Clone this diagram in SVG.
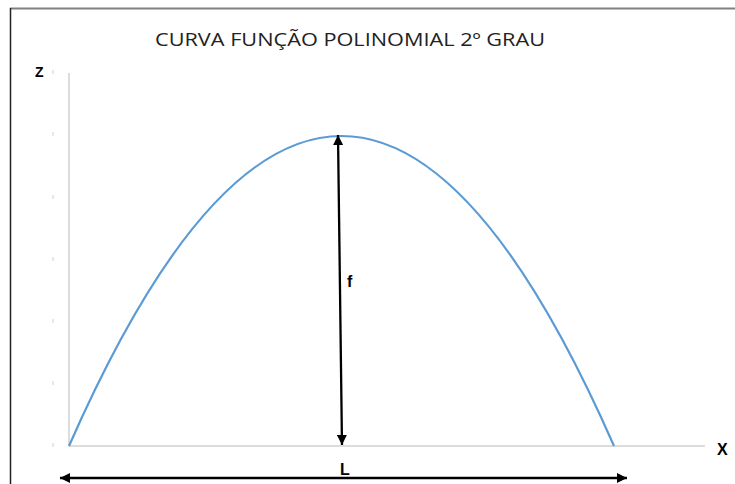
<svg xmlns="http://www.w3.org/2000/svg" width="735" height="484" viewBox="0 0 735 484">
<style>
.lbl{font-family:"Liberation Sans",Arial,sans-serif;font-weight:bold;fill:#000}
.title{font-family:"Open Sans","Liberation Sans",Arial,sans-serif;font-size:18.5px;fill:#222}
.axis{stroke:#d0d0d0;stroke-width:1.5;fill:none}
.tick{stroke:#d0d0d0;stroke-width:1;}
.arr{stroke:#000;stroke-width:2.3;fill:none}
</style>
<defs>
<marker id="ah" viewBox="0 0 10 10" refX="10" refY="5" markerWidth="10" markerHeight="10" markerUnits="userSpaceOnUse" orient="auto-start-reverse">
<path d="M0,0 L10,5 L0,10 z" fill="#000"/>
</marker>
</defs>
<rect width="735" height="484" fill="#fff"/>
<g id="frame">
<line x1="10" y1="8.5" x2="735" y2="8.5" stroke="#808080" stroke-width="2"/>
<line x1="10.5" y1="8" x2="10.5" y2="484" stroke="#222" stroke-width="1.5"/>
</g>
<g id="title"><text class="title" x="155" y="46" textLength="390" lengthAdjust="spacingAndGlyphs">CURVA FUNÇÃO POLINOMIAL 2º GRAU</text></g>
<g id="axes">
<line class="axis" x1="69" y1="73" x2="69" y2="446"/>
<line class="axis" x1="69" y1="446" x2="705" y2="446"/>
<g id="ticks">
<line class="tick" x1="53" y1="70" x2="53" y2="74"/>
<line class="tick" x1="53" y1="132" x2="53" y2="136"/>
<line class="tick" x1="53" y1="195" x2="53" y2="199"/>
<line class="tick" x1="53" y1="257" x2="53" y2="261"/>
<line class="tick" x1="53" y1="319" x2="53" y2="323"/>
<line class="tick" x1="53" y1="381" x2="53" y2="385"/>
<line class="tick" x1="53" y1="443" x2="53" y2="447"/>
</g>
</g>
<g id="label-z"><text class="lbl" x="35" y="77" font-size="14">Z</text></g>
<g id="label-x"><text class="lbl" x="717" y="455" font-size="16">X</text></g>
<g id="curve"><path d="M69,446 Q341.5,-174 614,446" fill="none" stroke="#5B9BD5" stroke-width="2.2"/></g>
<g id="connectors">
<line class="arr" x1="338" y1="135" x2="342" y2="445" marker-start="url(#ah)" marker-end="url(#ah)"/>
<line class="arr" x1="60" y1="478" x2="627" y2="478" marker-start="url(#ah)" marker-end="url(#ah)"/>
</g>
<g id="label-f"><text class="lbl" x="347" y="287" font-size="16">f</text></g>
<g id="label-l"><text class="lbl" x="340" y="475" font-size="16">L</text></g>
</svg>
